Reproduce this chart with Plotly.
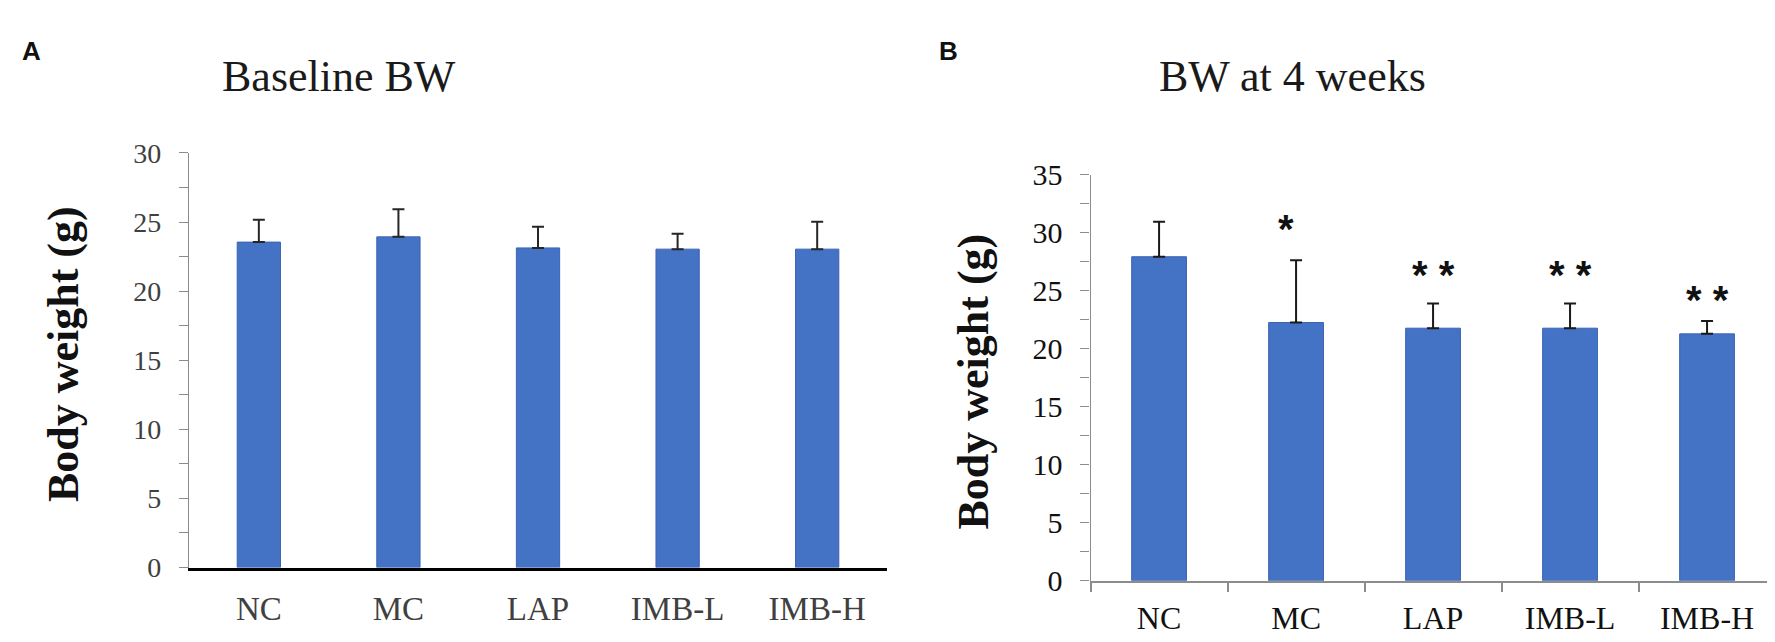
import plotly.graph_objects as go

# Body weight of mice per group, mean + SD
groups = ["NC", "MC", "LAP", "IMB-L", "IMB-H"]

baseline_bw = [23.55, 23.93, 23.13, 23.04, 23.04]
baseline_sd = [1.62, 1.99, 1.53, 1.12, 1.99]

week4_bw = [27.94, 22.27, 21.78, 21.78, 21.29]
week4_sd = [3.02, 5.37, 2.12, 2.12, 1.11]

# significance marks vs NC and the height they sit at
week4_sig = ["", "*", "* *", "* *", "* *"]
week4_sig_y = [0, 30.3, 26.4, 26.4, 24.2]

BLUE = "#4472C4"
SERIF = "Liberation Serif"
SANS = "Liberation Sans"

fig = go.Figure()

fig.add_trace(go.Bar(
    x=groups, y=baseline_bw, width=0.31,
    marker=dict(color=BLUE, line=dict(color="#3a64b4", width=1)),
    error_y=dict(type="data", array=baseline_sd, arrayminus=[0] * 5,
                 symmetric=False, color="#262626", thickness=2, width=6),
    xaxis="x", yaxis="y", showlegend=False,
))

fig.add_trace(go.Bar(
    x=groups, y=week4_bw, width=0.40,
    marker=dict(color=BLUE, line=dict(color="#3a64b4", width=1)),
    error_y=dict(type="data", array=week4_sd, arrayminus=[0] * 5,
                 symmetric=False, color="#1a1a1a", thickness=2, width=6),
    xaxis="x2", yaxis="y2", showlegend=False,
))


def note(x, y, text, font, **kw):
    return dict(x=x, y=y, xref="paper", yref="paper", text=text,
                xanchor="center", yanchor="middle", showarrow=False,
                font=font, **kw)


annotations = []
for g, s, sy in zip(groups, week4_sig, week4_sig_y):
    if s:
        annotations.append(dict(
            x=g, y=sy, xref="x2", yref="y2", text="<b>" + s + "</b>",
            xanchor="center", yanchor="middle", showarrow=False,
            xshift=-10 if s == "*" else 0,
            font=dict(family=SANS, size=40, color="#111"),
        ))

# panel letters, titles, y titles
panel_font = dict(family=SANS, size=26, color="#111")
title_font = dict(family=SERIF, size=44, color="#1a1a1a")
ytitle_font = dict(family=SERIF, size=44, color="#111")
annotations += [
    note(0.0130, 0.955, "<b>A</b>", panel_font),
    note(0.5296, 0.955, "<b>B</b>", panel_font),
    note(0.1865, 0.914, "Baseline BW", title_font),
    note(0.7236, 0.914, "BW at 4 weeks", title_font),
    note(0.031, 0.458, "<b>Body weight (g)</b>", ytitle_font, textangle=-90),
    note(0.5442, 0.4128, "<b>Body weight (g)</b>", ytitle_font, textangle=-90),
]

fig.update_layout(
    width=1775, height=642,
    margin=dict(l=0, r=0, t=0, b=0),
    paper_bgcolor="white", plot_bgcolor="white",
    annotations=annotations,
    xaxis=dict(
        domain=[0.1020, 0.4952], anchor="y",
        showline=True, linecolor="black", linewidth=2.5,
        ticks="", showgrid=False, zeroline=False,
        tickfont=dict(family=SERIF, size=33, color="#404040"),
        ticklabelstandoff=10,
    ),
    yaxis=dict(
        domain=[0.1075, 0.7882], anchor="x", range=[0, 30],
        dtick=5, showline=True, linecolor="#8c8c8c", linewidth=1.2,
        ticks="outside", ticklen=9, tickcolor="#8c8c8c", tickwidth=1.2,
        minor=dict(dtick=2.5, ticks="outside", ticklen=9,
                   tickcolor="#8c8c8c", tickwidth=1.2, showgrid=False),
        showgrid=False, zeroline=False,
        tickfont=dict(family=SERIF, size=28, color="#404040"),
        ticklabelstandoff=12,
    ),
    xaxis2=dict(
        domain=[0.6099, 0.9958], anchor="y2",
        showline=True, linecolor="#8c8c8c", linewidth=2,
        ticks="outside", tickson="boundaries", ticklen=9,
        tickcolor="#8c8c8c", tickwidth=1.5,
        showgrid=False, zeroline=False,
        tickfont=dict(family=SERIF, size=32, color="#111"),
        ticklabelstandoff=8,
    ),
    yaxis2=dict(
        domain=[0.0857, 0.7523], anchor="x2", range=[0, 35],
        dtick=5, showline=True, linecolor="#8c8c8c", linewidth=1.2,
        ticks="outside", ticklen=9, tickcolor="#8c8c8c", tickwidth=1.2,
        minor=dict(dtick=2.5, ticks="outside", ticklen=9,
                   tickcolor="#8c8c8c", tickwidth=1.2, showgrid=False),
        showgrid=False, zeroline=False,
        tickfont=dict(family=SERIF, size=30, color="#111"),
        ticklabelstandoff=12,
    ),
)

fig.write_html("out.html")
